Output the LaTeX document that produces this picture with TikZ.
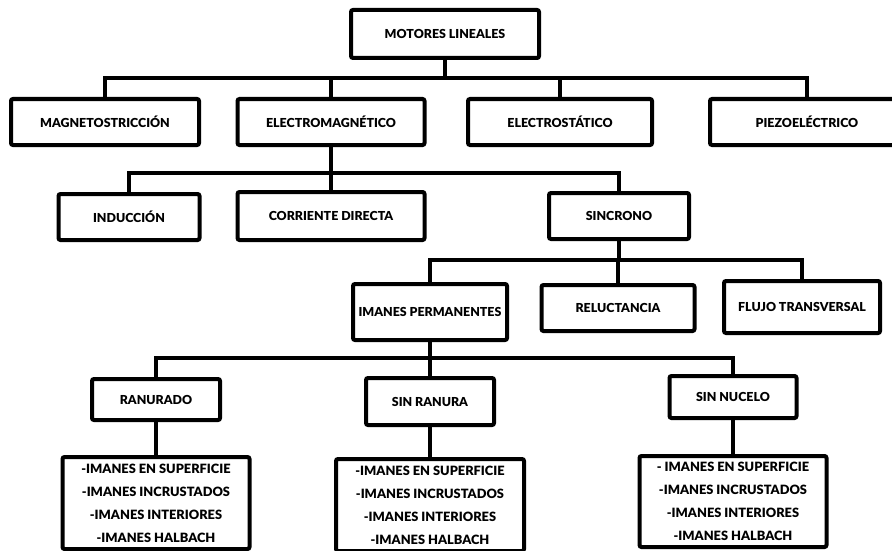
\documentclass[tikz,border=0pt]{standalone}
\usepackage{fontspec}
\setmainfont{Lato}[BoldFont={Lato Black}]
\begin{document}
\begin{tikzpicture}[x=1pt,y=-1pt,
  box/.style={draw,fill=white,line width=4pt,rounded corners=2pt,inner sep=0pt,align=center,
    font=\fontsize{12.4}{14}\selectfont\bfseries},
  listbox/.style={box,font=\fontsize{12.8}{23}\selectfont\bfseries},
  conn/.style={line width=4pt}]
\useasboundingbox (0,0) rectangle (892,551);
\fill[white] (0,0) rectangle (892,551);
% level 0
\node[box,minimum width=188pt,minimum height=48pt] (top) at (445,34) {MOTORES LINEALES};
% level 1
\node[box,minimum width=188pt,minimum height=46pt] (mag) at (105,122) {MAGNETOSTRICCIÓN};
\node[box,minimum width=187pt,minimum height=46pt] (elm) at (331,122) {ELECTROMAGNÉTICO};
\node[box,minimum width=184pt,minimum height=46pt] (est) at (560,122) {ELECTROSTÁTICO};
\node[box,minimum width=194pt,minimum height=46pt] (pie) at (807,122) {PIEZOELÉCTRICO};
% level 2
\node[box,minimum width=141pt,minimum height=46pt] (ind) at (129,217) {INDUCCIÓN};
\node[box,minimum width=187pt,minimum height=48pt] (cor) at (331,216) {CORRIENTE DIRECTA};
\node[box,minimum width=140pt,minimum height=46pt] (sin) at (619,216) {SINCRONO};
% level 3
\node[box,minimum width=154pt,minimum height=56pt] (imp) at (430,312) {IMANES PERMANENTES};
\node[box,minimum width=153pt,minimum height=46pt] (rel) at (618,308) {RELUCTANCIA};
\node[box,minimum width=156pt,minimum height=52pt] (flu) at (802,307) {FLUJO TRANSVERSAL};
% level 4
\node[box,minimum width=128pt,minimum height=41pt] (ran) at (156,399.5) {RANURADO};
\node[box,minimum width=128pt,minimum height=47pt] (sr) at (430,401.5) {SIN RANURA};
\node[box,minimum width=127pt,minimum height=42pt] (sn) at (733,397) {SIN NUCELO};
% level 5
\node[listbox,minimum width=187pt,minimum height=92pt] (l1) at (156,503)
  {-IMANES EN SUPERFICIE\\-IMANES INCRUSTADOS\\-IMANES INTERIORES\\-IMANES HALBACH};
\node[listbox,minimum width=188pt,minimum height=92pt] (l2) at (430,505)
  {-IMANES EN SUPERFICIE\\-IMANES INCRUSTADOS\\-IMANES INTERIORES\\-IMANES HALBACH};
\node[listbox,minimum width=187pt,minimum height=91pt] (l3) at (733,501.5)
  {- IMANES EN SUPERFICIE\\-IMANES INCRUSTADOS\\-IMANES INTERIORES\\-IMANES HALBACH};
% connectors
\coordinate (b1) at (0,78);
\coordinate (b2) at (0,173);
\coordinate (b3) at (0,260);
\coordinate (b4) at (0,358);
\foreach \c in {mag,elm,est,pie}
  \draw[conn] (top.south) -- (top.south |- b1) -| (\c.north);
\foreach \c in {ind,cor,sin}
  \draw[conn] (elm.south) -- (elm.south |- b2) -| (\c.north);
\foreach \c in {imp,rel,flu}
  \draw[conn] (sin.south) -- (sin.south |- b3) -| (\c.north);
\foreach \c in {ran,sr,sn}
  \draw[conn] (imp.south) -- (imp.south |- b4) -| (\c.north);
\draw[conn] (ran.south) -- (l1.north);
\draw[conn] (sr.south) -- (l2.north);
\draw[conn] (sn.south) -- (l3.north);
\end{tikzpicture}
\end{document}
